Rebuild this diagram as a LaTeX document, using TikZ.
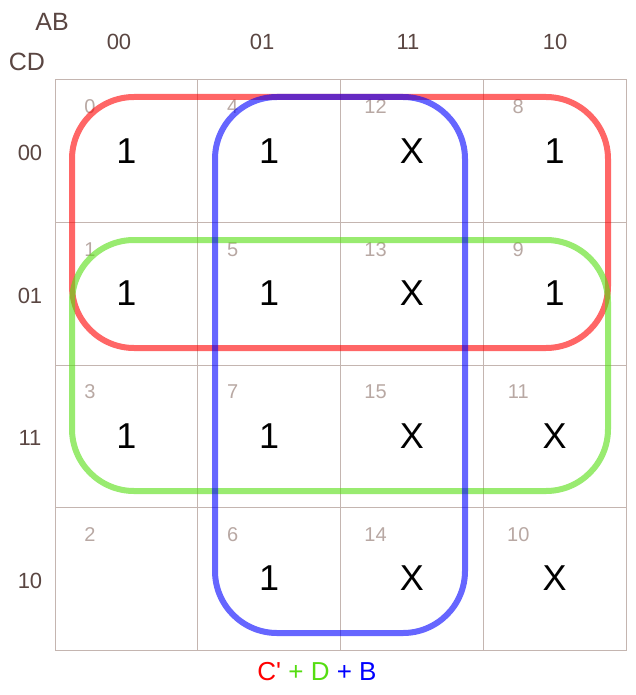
\documentclass[tikz,border=0pt]{standalone}
\usepackage{fontspec}
\setmainfont{Liberation Sans}
\newfontfamily\exprfont{Liberation Sans}
\definecolor{kgrid}{HTML}{C4B5B0}
\definecolor{khead}{HTML}{5A4642}
\definecolor{kidx}{HTML}{B8A8A3}
\definecolor{kred}{HTML}{FF0000}
\definecolor{kgreen}{HTML}{55DD11}
\definecolor{kblue}{HTML}{0000FF}
\tikzset{
  varname/.style={text=khead, font=\fontsize{25}{25}\selectfont},
  head/.style={text=khead, font=\fontsize{22}{22}\selectfont},
  idx/.style={text=kidx, font=\fontsize{20}{20}\selectfont, inner sep=0pt},
  val/.style={font=\fontsize{36}{36}\selectfont},
  grp/.style={line width=6pt, rounded corners=62pt, opacity=0.6},
}
\begin{document}
\begin{tikzpicture}[x=1pt,y=-1pt]
  \useasboundingbox (0,0) rectangle (635,695);
  % map grid
  \draw[kgrid, line width=1pt] (55,80) rectangle (626,650);
  \foreach \k in {1,2,3} {
    \draw[kgrid, line width=1pt] (55+142.75*\k,80) -- (55+142.75*\k,650);
    \draw[kgrid, line width=1pt] (55,80+142.5*\k) -- (626,80+142.5*\k);
  }
  \node[varname] (ab) at (52,22) {AB};
  \node[varname] (cd) at (27,62) {CD};
  \foreach \lab/\x [count=\n from 0] in {00/119,01/262,11/408,10/555} {
    \node[head] (col\lab) at (\x,42) {\lab};
    \node[head] (row\lab) at (30,153+142.5*\n) {\lab};
  }
  % cells: column, row, minterm, value
  \foreach \a/\c/\n/\v in {0/0/0/1, 1/0/4/1, 2/0/12/X, 3/0/8/1,
                           0/1/1/1, 1/1/5/1, 2/1/13/X, 3/1/9/1,
                           0/2/3/1, 1/2/7/1, 2/2/15/X, 3/2/11/X,
                           0/3/2/{}, 1/3/6/1, 2/3/14/X, 3/3/10/X} {
    \node[idx] (i\n) at (55+142.75*\a+35,80+142.5*\c+27) {\n};
    \node[val] (v\n) at (126.4+142.75*\a,151+142.5*\c) {\v};
  }
  % groups
  \draw[grp, kred] (72,97) rectangle (608,348);
  \draw[grp, kgreen] (72,240) rectangle (608,491);
  \draw[grp, kblue] (215,97) rectangle (465,633);
  \node[font=\exprfont\fontsize{26}{26}\selectfont] (expr) at (317,672)
    {\textcolor{kred}{C'} \textcolor{kgreen}{+ D} \textcolor{kblue}{+ B}};
\end{tikzpicture}
\end{document}
